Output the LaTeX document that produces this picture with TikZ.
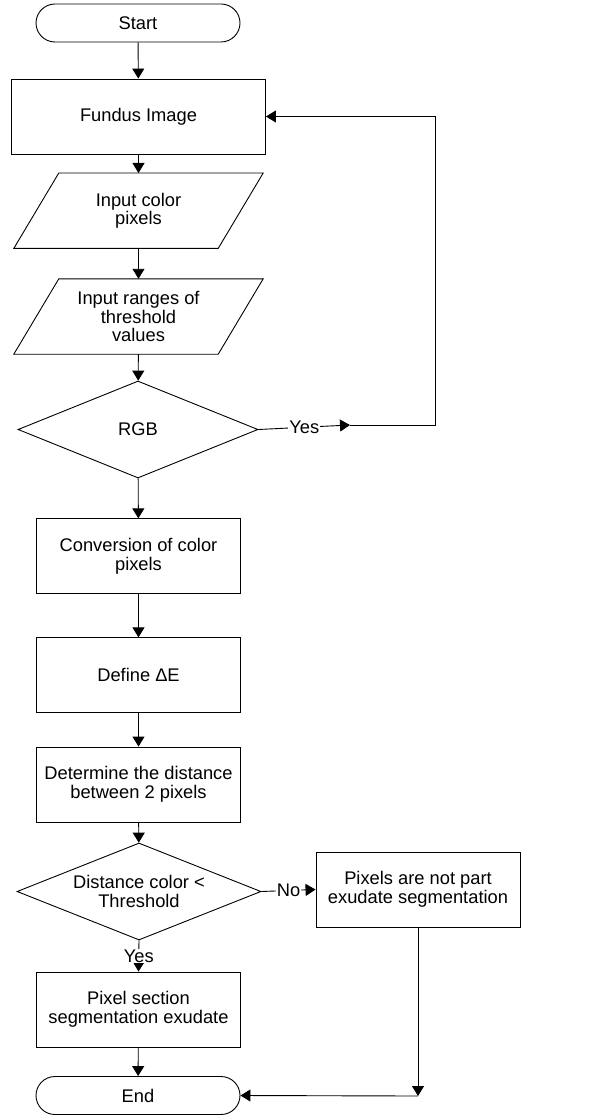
\documentclass[tikz,border=0pt]{standalone}
\usepackage{fontspec}
\setmainfont{Liberation Sans}
\usetikzlibrary{shapes.geometric,shapes.misc,arrows.meta}
\newcommand\iobox[1]{\draw[line] ([xshift=-22.5pt]#1.south west) -- ([xshift=-22.5pt]#1.south east) -- ([xshift=22.5pt]#1.north east) -- ([xshift=22.5pt]#1.north west) -- cycle;}
\tikzset{
  every node/.style={font=\fontsize{18.3}{18.5}\selectfont, align=center, inner sep=0pt},
  line/.style={draw=black, line width=0.9pt},
  arr/.style={line, -{Triangle[length=10pt,width=12pt]}},
  term/.style={rounded rectangle, line, minimum width=204pt, minimum height=38pt},
  proc/.style={rectangle, line, minimum width=204pt, minimum height=75pt},
  io/.style={rectangle, minimum width=204pt, minimum height=75pt},
  dec/.style={diamond, line, aspect=2.5, minimum width=240pt, minimum height=97pt},
  lbl/.style={fill=white, inner sep=1pt}
}
\begin{document}
\begin{tikzpicture}[x=1pt,y=-1pt]
\useasboundingbox[fill=white] (0,0) rectangle (612,1115);
\node[term] (start) at (138,23) {Start};
\node[proc, minimum width=254pt] (fundus) at (138.5,116.5) {Fundus Image};
\node[io] (inp1) at (138.5,210.7) {Input color\\pixels};
\iobox{inp1}
\node[io] (inp2) at (138.5,316.5) {Input ranges of\\threshold\\values};
\iobox{inp2}
\node[dec] (rgb) at (138,429.5) {RGB};
\node[proc] (conv) at (138.5,556.3) {Conversion of color\\pixels};
\node[proc] (define) at (138.5,675.3) {Define ΔE};
\node[proc] (determ) at (138.5,784.5) {Determine the distance\\between 2 pixels};
\node[dec, minimum width=244pt] (dist) at (139,891.5) {Distance color <\\Threshold};
\node[proc] (notpart) at (418,889.5) {Pixels are not part\\exudate segmentation};
\node[proc] (pixsec) at (138.5,1009.5) {Pixel section\\segmentation exudate};
\node[term] (end) at (138,1095.5) {End};
\coordinate (yesmid) at (350,425);
\coordinate (loopc) at (435,425);
\coordinate (npc) at (418,1096);

\draw[arr] (start) -- (fundus);
\draw[arr] (fundus) -- (inp1);
\draw[arr] (inp1) -- (inp2);
\draw[arr] (inp2) -- (rgb);
\draw[arr] (rgb) -- (conv);
\draw[arr] (conv) -- (define);
\draw[arr] (define) -- (determ);
\draw[arr] (determ) -- (dist);
\draw[arr] (rgb.east) -- node[lbl] {Yes} (yesmid);
\draw[arr] (yesmid) -- (loopc) |- (fundus.east);
\draw[arr] (dist.east) -- node[lbl] {No} (notpart.west);
\draw[arr] (dist.south) -- node[lbl] {Yes} (pixsec.north);
\draw[arr] (pixsec) -- (end);
\draw[arr] (notpart.south) -- (npc);
\draw[arr] (npc) -- (end.east);
\end{tikzpicture}
\end{document}
